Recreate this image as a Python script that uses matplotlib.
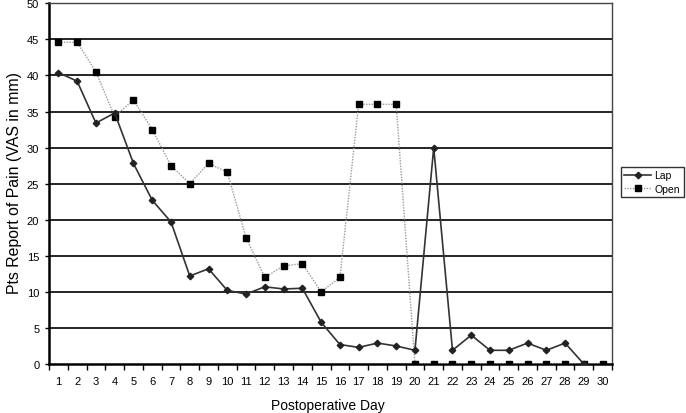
import matplotlib
matplotlib.use("Agg")
import matplotlib.pyplot as plt
import numpy as np

plt.rcParams['font.family'] = ['Liberation Sans', 'DejaVu Sans']

days = list(range(1, 31))
lap_days = list(range(1, 30))
lap = [40.4, 39.2, 33.4, 34.8, 27.8, 22.7, 19.7, 12.2, 13.2, 10.2,
       9.7, 10.7, 10.4, 10.5, 5.8, 2.7, 2.3, 2.9, 2.5, 1.9,
       30.0, 1.9, 4.0, 1.9, 1.9, 2.9, 1.9, 2.9, 0.0]
open_vals = [44.6, 44.6, 40.5, 34.3, 36.6, 32.5, 27.5, 25.0, 27.8, 26.6,
             17.5, 12.0, 13.6, 13.9, 10.0, 12.0, 36.0, 36.0, 36.0, 0.0,
             0.0, 0.0, 0.0, 0.0, 0.0, 0.0, 0.0, 0.0, 0.0, 0.0]
yticks = [0, 5, 10, 15, 20, 25, 30, 35, 40, 45, 50]

W, H = 686, 414
fig = plt.figure(figsize=(W/100, H/100), dpi=100)
ax = fig.add_axes([49/W, 1-365/H, (612-49)/W, (365-4.3)/H])

for y in yticks[1:]:
    ax.axhline(y, color='black', lw=1.2, zorder=1)

ax.plot(days, open_vals, color='#999999', lw=1.0, linestyle=(0, (1, 1)),
        marker='s', markersize=4.3, markerfacecolor='black', markeredgecolor='black',
        label='Open', zorder=3)
ax.plot(lap_days, lap, color='#333333', lw=1.2, linestyle='-',
        marker='D', markersize=3.3, markerfacecolor='#222222', markeredgecolor='#222222',
        label='Lap', zorder=4)

ax.set_xlim(0.5, 30.5)
ax.set_ylim(0, 50)
ax.set_yticks(yticks)
ax.set_xticks(days)
ax.set_xticks(np.arange(0.5, 31, 1), minor=True)
ax.tick_params(axis='x', which='major', length=0, pad=9, labelsize=8)
ax.tick_params(axis='x', which='minor', length=4, width=1, direction='out')
ax.tick_params(axis='y', length=3, width=1, direction='out', labelsize=8, pad=4)
for sp in ax.spines.values():
    sp.set_linewidth(1.0)
ax.spines['left'].set_linewidth(1.8)
ax.spines['bottom'].set_linewidth(1.8)
ax.spines['right'].set_color('#444444')
ax.spines['top'].set_color('#444444')

fig.text(328/W, 1-406/H, 'Postoperative Day', fontsize=10, ha='center', va='center')
fig.text(15/W, 1-183/H, 'Pts Report of Pain (VAS in mm)', fontsize=11.4,
         rotation=90, ha='center', va='center')

handles, labels = ax.get_legend_handles_labels()
leg = fig.legend(handles[::-1], labels[::-1], loc='center',
                 bbox_to_anchor=(652/W, 1-183/H), fontsize=7.5,
                 frameon=True, fancybox=False, edgecolor='black',
                 handlelength=2.6, borderpad=0.35, labelspacing=0.3,
                 handletextpad=0.3)
leg.get_frame().set_linewidth(1.0)

fig.savefig('out.png', dpi=100)
